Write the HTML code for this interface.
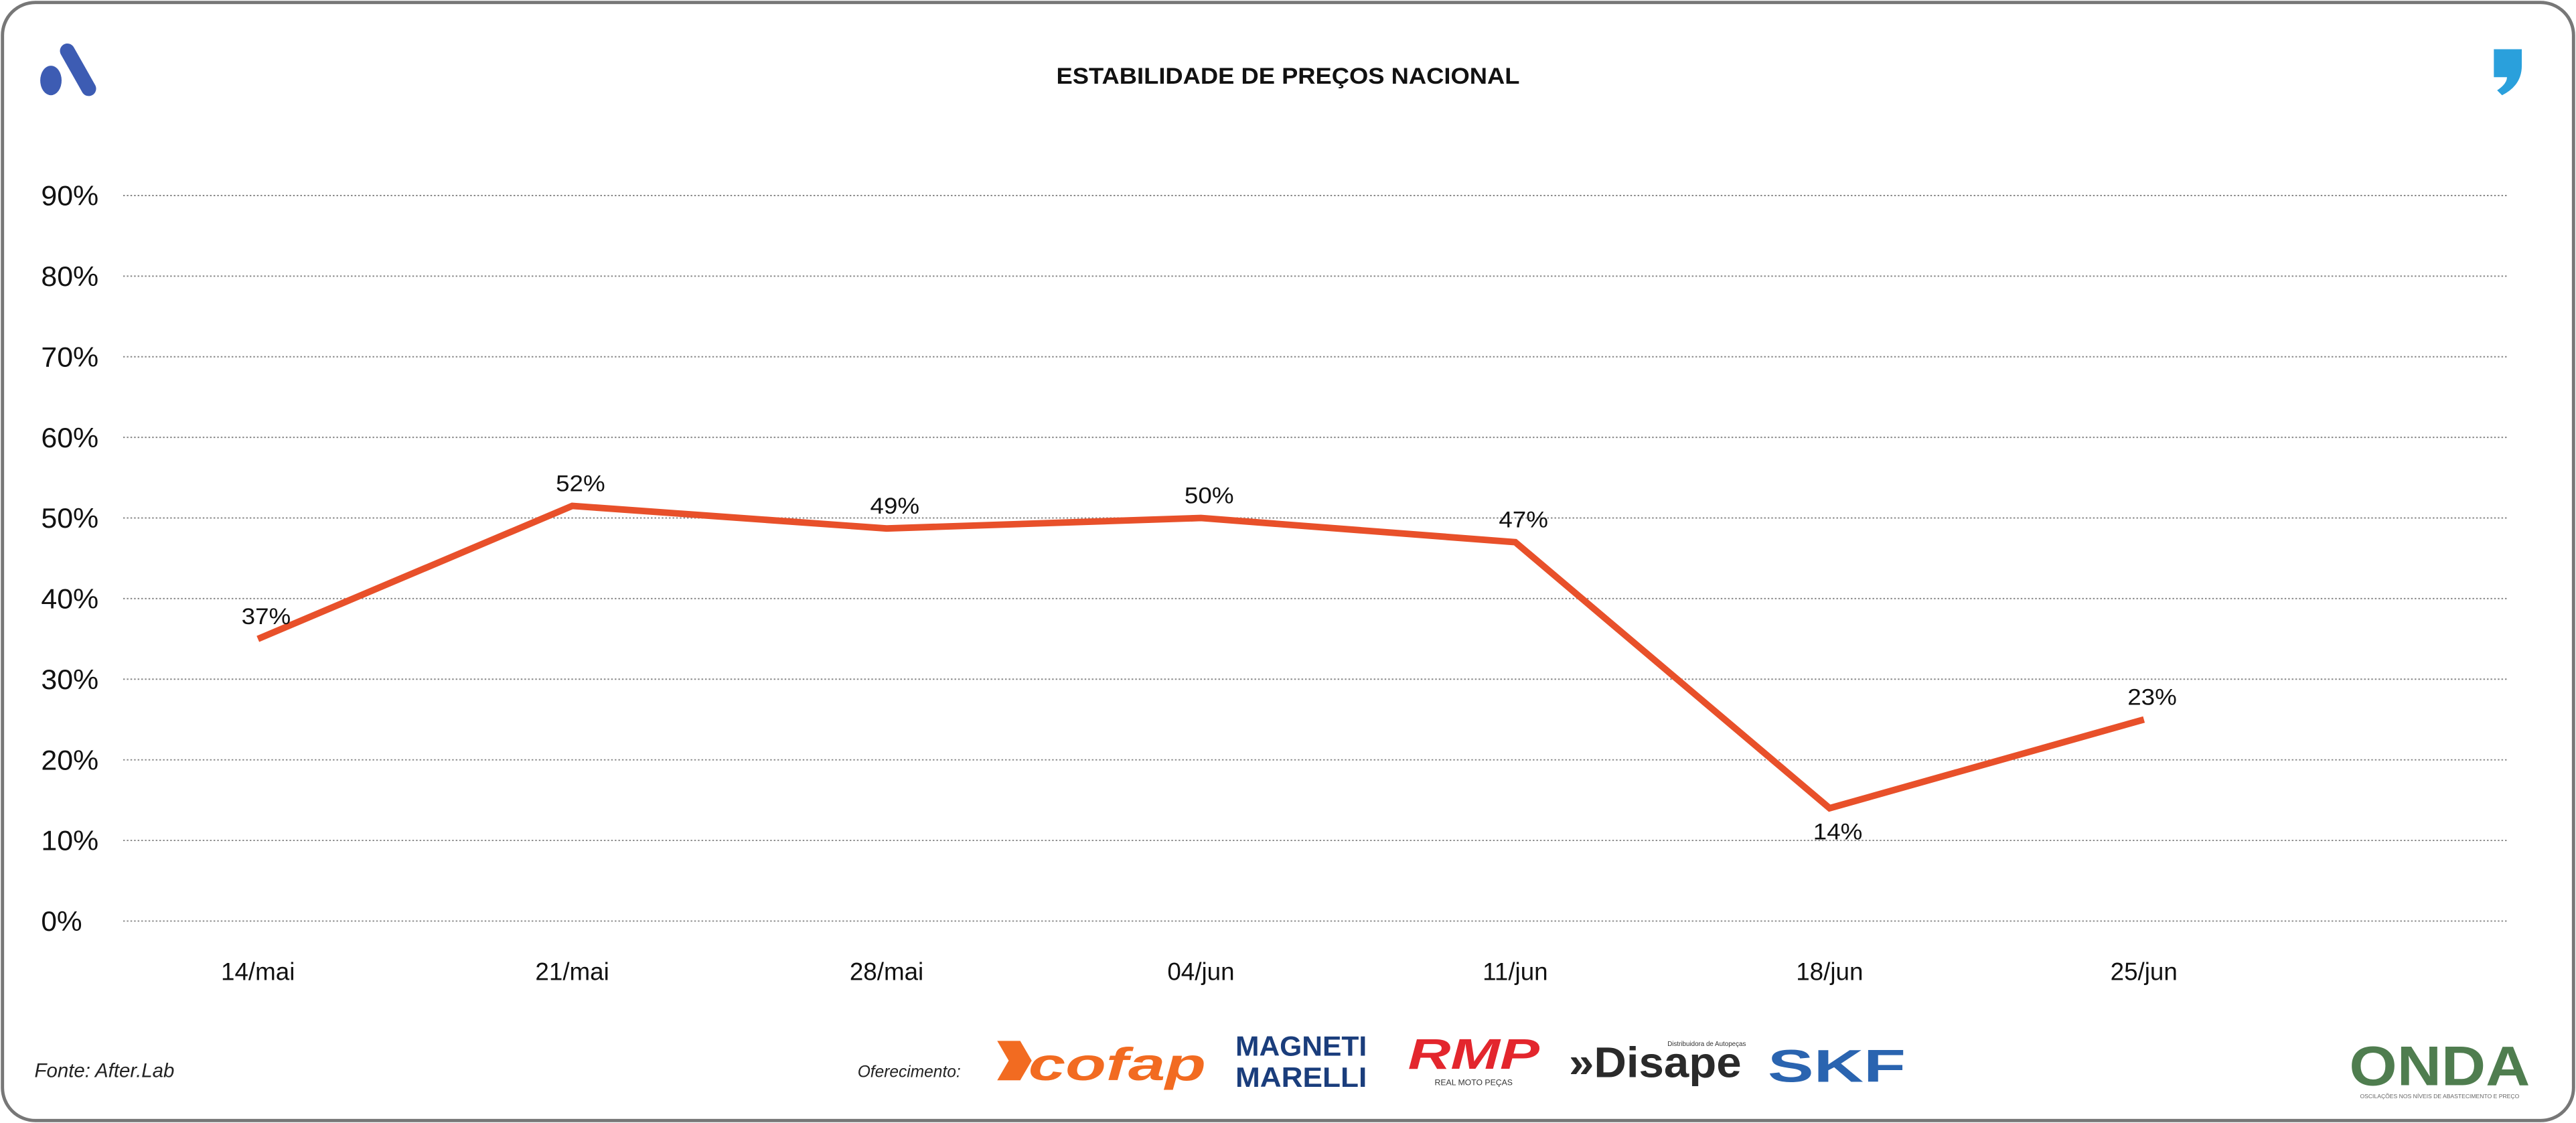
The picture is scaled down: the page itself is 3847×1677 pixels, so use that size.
<!DOCTYPE html>
<html><head><meta charset="utf-8"><style>
html,body{margin:0;padding:0;background:#fff;}
svg{display:block;font-family:"Liberation Sans",sans-serif;}
</style></head><body>
<svg id="chart" width="3847" height="1677" viewBox="0 0 1568 684" preserveAspectRatio="none">
<rect x="1.5" y="1.5" width="1565" height="681" rx="20" fill="#fff" stroke="#777" stroke-width="2"/>
<g>
<ellipse cx="31" cy="49" rx="6.5" ry="9" fill="#3d5cb3"/>
<line x1="41" y1="31" x2="54" y2="54" stroke="#3d5cb3" stroke-width="9" stroke-linecap="round"/>
</g>
<path d="M1518 30 h17 v10 q0 12 -12 18 l-3 -3 q6 -4 6 -8 h-8 z" fill="#2aa0dc"/>
<text x="784" y="51" text-anchor="middle" font-size="14" font-weight="bold" fill="#111" textLength="282" lengthAdjust="spacingAndGlyphs">ESTABILIDADE DE PREÇOS NACIONAL</text>
<g id="grid"></g><g id="yticks"></g><g id="xticks"></g>
<polyline id="series" fill="none" stroke="#e8502a" stroke-width="4" stroke-linejoin="miter"/>
<g id="labels"></g>
<text x="21" y="656" font-size="12" font-style="italic" fill="#222">Fonte: After.Lab</text>
<text x="522" y="656" font-size="10" font-style="italic" fill="#222">Oferecimento:</text>
<g><path d="M607 634 h14 l7 12 l-7 12 h-14 l7 -12 z" fill="#f26b21"/><text x="626" y="658" font-size="28" font-weight="bold" font-style="italic" fill="#f26b21" textLength="108" lengthAdjust="spacingAndGlyphs">cofap</text></g>
<g><text x="792" y="643" text-anchor="middle" font-size="17" font-weight="bold" fill="#1a3d7c" textLength="80" lengthAdjust="spacingAndGlyphs">MAGNETI</text><text x="792" y="662" text-anchor="middle" font-size="17" font-weight="bold" fill="#1a3d7c" textLength="80" lengthAdjust="spacingAndGlyphs">MARELLI</text></g>
<g><text x="897" y="651" text-anchor="middle" font-size="26" font-weight="bold" font-style="italic" fill="#e3262d" textLength="80" lengthAdjust="spacingAndGlyphs">RMP</text><text x="897" y="661" text-anchor="middle" font-size="5" fill="#333">REAL MOTO PEÇAS</text></g>
<g><text x="1015" y="637" font-size="4" fill="#333">Distribuidora de Autopeças</text><text x="955" y="656" font-size="26" font-weight="bold" fill="#2a2a2a" textLength="105" lengthAdjust="spacingAndGlyphs">»Disape</text></g>
<text x="1076" y="659" font-size="28" font-weight="bold" fill="#2a64b0" textLength="84" lengthAdjust="spacingAndGlyphs">SKF</text>
<g><text x="1485" y="661" text-anchor="middle" font-size="34" font-weight="bold" fill="#4f7d4f" textLength="110" lengthAdjust="spacingAndGlyphs">ONDA</text><text x="1485" y="669" text-anchor="middle" font-size="3.5" fill="#666">OSCILAÇÕES NOS NÍVEIS DE ABASTECIMENTO E PREÇO</text></g>
</svg>
<script>
const categories = ["14/mai","21/mai","28/mai","04/jun","11/jun","18/jun","25/jun"];
const values = [35, 51.5, 48.7, 50, 47, 14, 25];
const valueLabels = ["37%","52%","49%","50%","47%","14%","23%"];
const yTicks = [0,10,20,30,40,50,60,70,80,90];
const NS="http://www.w3.org/2000/svg";
const x0=157, x1=1305, yBase=561, yStep=4.91;
function xScale(i){return x0+(x1-x0)*i/(categories.length-1);}
function yScale(v){return yBase-v*yStep;}
const grid=document.getElementById('grid'), yt=document.getElementById('yticks'), xt=document.getElementById('xticks'), lb=document.getElementById('labels');
yTicks.forEach(t=>{
  const l=document.createElementNS(NS,'line');
  l.setAttribute('x1',75);l.setAttribute('x2',1527);l.setAttribute('y1',yScale(t));l.setAttribute('y2',yScale(t));
  l.setAttribute('stroke','#888');l.setAttribute('stroke-width','0.8');l.setAttribute('stroke-dasharray','1 1.2');
  
  
  grid.appendChild(l);
  const tx=document.createElementNS(NS,'text');
  tx.setAttribute('x',25);tx.setAttribute('y',yScale(t)+6);tx.setAttribute('font-size','17');tx.setAttribute('fill','#111');
  tx.setAttribute('textLength', t===0 ? 25 : 35);tx.setAttribute('lengthAdjust','spacingAndGlyphs');
  tx.textContent=t+'%';
  
  
  yt.appendChild(tx);
});
categories.forEach((c,i)=>{
  const tx=document.createElementNS(NS,'text');
  tx.setAttribute('x',xScale(i));tx.setAttribute('y',597);tx.setAttribute('text-anchor','middle');tx.setAttribute('font-size','15');tx.setAttribute('fill','#111');
  tx.textContent=c;
  
  
  xt.appendChild(tx);
});
document.getElementById('series').setAttribute('points',values.map((v,i)=>xScale(i)+','+yScale(v)).join(' '));
values.forEach((v,i)=>{
  const tx=document.createElementNS(NS,'text');
  const below = i>0 && i<values.length-1 && v<values[i-1] && v<values[i+1] && v<30;
  tx.setAttribute('x',xScale(i)+5);tx.setAttribute('y',yScale(v)+(below?19:-9));tx.setAttribute('text-anchor','middle');tx.setAttribute('font-size','14');tx.setAttribute('fill','#111');
  tx.setAttribute('textLength',30);tx.setAttribute('lengthAdjust','spacingAndGlyphs');
  tx.textContent=valueLabels[i];
  
  
  lb.appendChild(tx);
});
</script>
</body></html>
